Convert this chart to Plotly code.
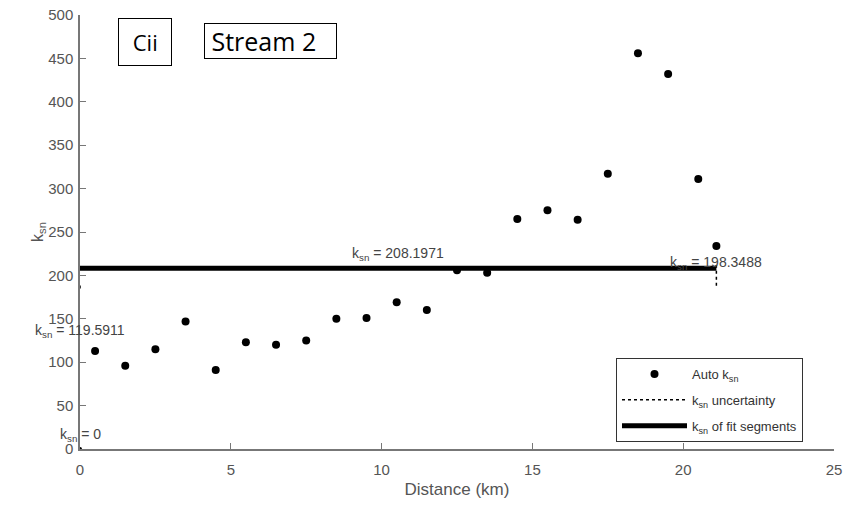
import plotly.graph_objects as go

# Auto ksn points
dist_km = [0.5, 1.5, 2.5, 3.5, 4.5, 5.5, 6.5, 7.5, 8.5, 9.5, 10.5, 11.5,
           12.5, 13.5, 14.5, 15.5, 16.5, 17.5, 18.5, 19.5, 20.5, 21.1]
ksn_auto = [113, 96, 115, 147, 91, 123, 120, 125, 150, 151, 169, 160,
            206, 203, 265, 275, 264, 317, 456, 432, 311, 234]

# fit segment
fit_x = [0, 21.1]
fit_y = [208.1971, 208.1971]

# uncertainty segments
unc_x = [0, 0, None, 21.1, 21.1]
unc_y = [185, 191, None, 188, 212]

# segment labels
label_x = [10.55, 21.1, 0, 0]
label_y = [208.1971, 198.3488, 119.5911, 0]
label_val = ["208.1971", "198.3488", "119.5911", "0"]

x_ticks = [0, 5, 10, 15, 20, 25]
y_ticks = [0, 50, 100, 150, 200, 250, 300, 350, 400, 450, 500]

font = "Liberation Sans, Arial, sans-serif"
axis_col = "#777777"
text_col = "#555555"

fig = go.Figure()
fig.add_trace(go.Scatter(x=dist_km, y=ksn_auto, mode="markers",
                         marker=dict(color="black", size=8),
                         name="Auto k<sub>sn</sub>", legendgroup="a"))
fig.add_trace(go.Scatter(x=unc_x, y=unc_y, mode="lines",
                         line=dict(color="black", width=1.5, dash="dot"),
                         name="k<sub>sn</sub> uncertainty", legendgroup="b"))
fig.add_trace(go.Scatter(x=fit_x, y=fit_y, mode="lines",
                         line=dict(color="black", width=5),
                         name="k<sub>sn</sub> of fit segments", legendgroup="c"))
fig.add_trace(go.Scatter(x=[0], y=[0], mode="markers",
                         marker=dict(color="black", size=4),
                         showlegend=False, hoverinfo="skip"))

for lx, ly, lv in zip(label_x, label_y, label_val):
    fig.add_annotation(x=lx, y=ly, text="k<sub>sn</sub> = " + lv,
                       showarrow=False, xanchor="center", yanchor="bottom",
                       yshift=3, font=dict(family=font, size=14, color="#444444"))

fig.add_annotation(xref="paper", yref="paper", x=(118 - 80) / 754, y=(449 - 18) / 434,
                   xanchor="left", yanchor="top", text=" Cii ", showarrow=False,
                   font=dict(family="Open Sans, sans-serif", size=22, color="black"),
                   bordercolor="black", borderwidth=1, borderpad=8, bgcolor="white")
fig.add_annotation(xref="paper", yref="paper", x=(204 - 80) / 754, y=(449 - 23) / 434,
                   xanchor="left", yanchor="top", text=" Stream 2   ", showarrow=False,
                   font=dict(family="Open Sans, sans-serif", size=25, color="black"),
                   bordercolor="black", borderwidth=1, borderpad=0, bgcolor="white")

fig.update_layout(
    width=845, height=499,
    margin=dict(l=72, r=19, t=7, b=58),
    paper_bgcolor="white", plot_bgcolor="white",
    font=dict(family=font, size=15, color=text_col),
    showlegend=True,
    legend=dict(x=(803 - 80) / 754, y=(449 - 442) / 434, xanchor="right", yanchor="bottom",
                bordercolor="#333333", borderwidth=1, bgcolor="white",
                font=dict(family=font, size=13, color="#333333"),
                tracegroupgap=6, itemwidth=65),
)
fig.update_xaxes(range=[0, 25], tickvals=x_ticks, showgrid=False, zeroline=False,
                 showline=True, linecolor=axis_col, linewidth=1.5, automargin=False,
                 ticks="inside", ticklen=6, tickcolor=axis_col, ticklabelstandoff=6,
                 ticklabeloverflow="allow",
                 title=dict(text="Distance (km)", font=dict(size=17, color=text_col), standoff=6))
fig.update_yaxes(range=[0, 500], tickvals=y_ticks, showgrid=False, zeroline=False,
                 showline=True, linecolor=axis_col, linewidth=1.5, automargin=False,
                 ticks="inside", ticklen=6, tickcolor=axis_col, ticklabelstandoff=2,
                 ticklabeloverflow="allow",
                 title=dict(text="k<sub>sn</sub>", font=dict(size=16, color=text_col), standoff=0))

fig.write_html("out.html")
